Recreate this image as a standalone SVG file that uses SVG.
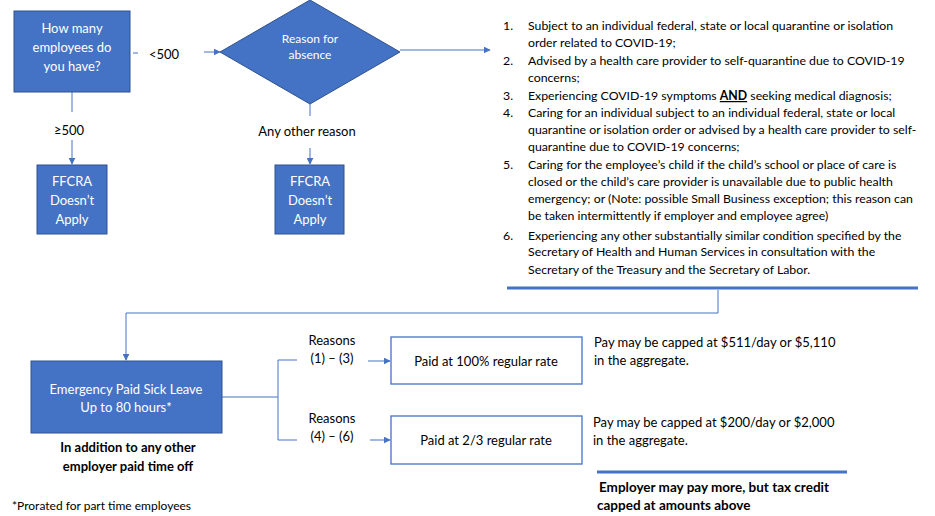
<svg xmlns="http://www.w3.org/2000/svg" width="935" height="516" viewBox="0 0 935 516">
<style>
text{font-family:Lato,"Open Sans","Liberation Sans",sans-serif;fill:#000}
.n{fill:#4472C4;stroke:#2F528F;stroke-width:1}
.w{fill:#fff;text-anchor:middle;font-size:13px}
.t{font-size:13px}
.c{text-anchor:middle}
.b{font-weight:bold}
.wb{fill:#fff;stroke:#4472C4;stroke-width:1.3}
.l{fill:none;stroke:#4472C4;stroke-width:1}
.a{fill:none;stroke:#4472C4;stroke-width:1;marker-end:url(#ah)}
.hr{stroke:#4472C4;stroke-width:3}
#reasons-list text{font-size:12.3px}
</style>
<defs>
<marker id="ah" viewBox="0 0 10 10" refX="9" refY="5" markerWidth="7" markerHeight="7" orient="auto" markerUnits="userSpaceOnUse"><path d="M0,0 L10,5 L0,10 z" fill="#4472C4"/></marker>
</defs>
<rect width="935" height="516" fill="#fff"/>
<g id="connectors">
<line class="l" x1="133" y1="53" x2="138" y2="53"/>
<line class="a" x1="204" y1="52" x2="220" y2="52"/>
<line class="a" x1="400" y1="50" x2="490" y2="50"/>
<line class="l" x1="72" y1="92" x2="72" y2="112"/>
<line class="a" x1="72" y1="140" x2="72" y2="164"/>
<line class="l" x1="310" y1="104" x2="310" y2="116"/>
<line class="a" x1="310" y1="148" x2="310" y2="164"/>
<polyline class="a" points="718,290 718,313 126,313 126,360"/>
<line class="l" x1="222" y1="397" x2="278" y2="397"/>
<polyline class="l" points="297,360 278,360 278,440 297,440"/>
<line class="a" x1="368" y1="361" x2="390" y2="361"/>
<line class="a" x1="370" y1="440" x2="390" y2="440"/>
</g>
<g id="q-employees">
<rect class="n" x="14" y="11" width="116" height="81"/>
<text class="w" x="72" y="33">How many</text>
<text class="w" x="72" y="52">employees do</text>
<text class="w" x="72" y="71">you have?</text>
</g>
<text class="t c" x="164" y="59">&lt;500</text>
<text class="t c" x="69" y="135">≥500</text>
<g id="reason">
<polygon class="n" points="220,52 310,0 400,52 310,104"/>
<text class="w" x="310" y="43" style="font-size:12px">Reason for</text>
<text class="w" x="310" y="59" style="font-size:12px">absence</text>
</g>
<text class="t c" x="307" y="136">Any other reason</text>
<g id="ffcra1">
<rect class="n" x="37" y="165" width="70" height="69"/>
<text class="w" x="72" y="186">FFCRA</text>
<text class="w" x="72" y="205">Doesn’t</text>
<text class="w" x="72" y="224">Apply</text>
</g>
<g id="ffcra2">
<rect class="n" x="275" y="165" width="69" height="69"/>
<text class="w" x="310" y="186">FFCRA</text>
<text class="w" x="310" y="205">Doesn’t</text>
<text class="w" x="310" y="224">Apply</text>
</g>
<g id="reasons-list">
<text x="503" y="30">1.</text>
<text x="528" y="30">Subject to an individual federal, state or local quarantine or isolation</text>
<text x="528" y="47">order related to COVID-19;</text>
<text x="503" y="65">2.</text>
<text x="528" y="65">Advised by a health care provider to self-quarantine due to COVID-19</text>
<text x="528" y="82">concerns;</text>
<text x="503" y="100">3.</text>
<text x="528" y="100">Experiencing COVID-19 symptoms <tspan class="b" text-decoration="underline">AND</tspan> seeking medical diagnosis;</text>
<text x="503" y="117">4.</text>
<text x="528" y="117">Caring for an individual subject to an individual federal, state or local</text>
<text x="528" y="134">quarantine or isolation order or advised by a health care provider to self-</text>
<text x="528" y="151">quarantine due to COVID-19 concerns;</text>
<text x="503" y="169">5.</text>
<text x="528" y="169">Caring for the employee’s child if the child’s school or place of care is</text>
<text x="528" y="186">closed or the child’s care provider is unavailable due to public health</text>
<text x="528" y="203">emergency; or (Note: possible Small Business exception; this reason can</text>
<text x="528" y="220">be taken intermittently if employer and employee agree)</text>
<text x="503" y="240">6.</text>
<text x="528" y="240">Experiencing any other substantially similar condition specified by the</text>
<text x="528" y="256">Secretary of Health and Human Services in consultation with the</text>
<text x="528" y="274">Secretary of the Treasury and the Secretary of Labor.</text>
</g>
<line class="hr" x1="507" y1="288" x2="918" y2="288"/>
<g id="epsl">
<rect class="n" x="31" y="361" width="191" height="72"/>
<text class="w" x="126" y="394">Emergency Paid Sick Leave</text>
<text class="w" x="126" y="412">Up to 80 hours*</text>
</g>
<text class="t c b" x="128" y="452">In addition to any other</text>
<text class="t c b" x="128" y="471">employer paid time off</text>
<text class="t" x="12" y="510" style="font-size:12px">*Prorated for part time employees</text>
<text class="t c" x="332" y="345">Reasons</text>
<text class="t c" x="332" y="363">(1) – (3)</text>
<text class="t c" x="332" y="423">Reasons</text>
<text class="t c" x="332" y="441">(4) – (6)</text>
<g id="paid100">
<rect class="wb" x="391" y="337" width="191" height="47"/>
<text class="t c" x="486" y="366">Paid at 100% regular rate</text>
</g>
<g id="paid23">
<rect class="wb" x="391" y="416" width="191" height="48"/>
<text class="t c" x="486" y="445">Paid at 2/3 regular rate</text>
</g>
<text class="t" x="594" y="347">Pay may be capped at $511/day or $5,110</text>
<text class="t" x="594" y="365">in the aggregate.</text>
<text class="t" x="593" y="427">Pay may be capped at $200/day or $2,000</text>
<text class="t" x="593" y="445">in the aggregate.</text>
<line class="hr" x1="597" y1="472" x2="847" y2="472"/>
<text class="t b" x="599" y="492" style="font-size:13.5px">Employer may pay more, but tax credit</text>
<text class="t b" x="597" y="510" style="font-size:13.5px">capped at amounts above</text>
</svg>
